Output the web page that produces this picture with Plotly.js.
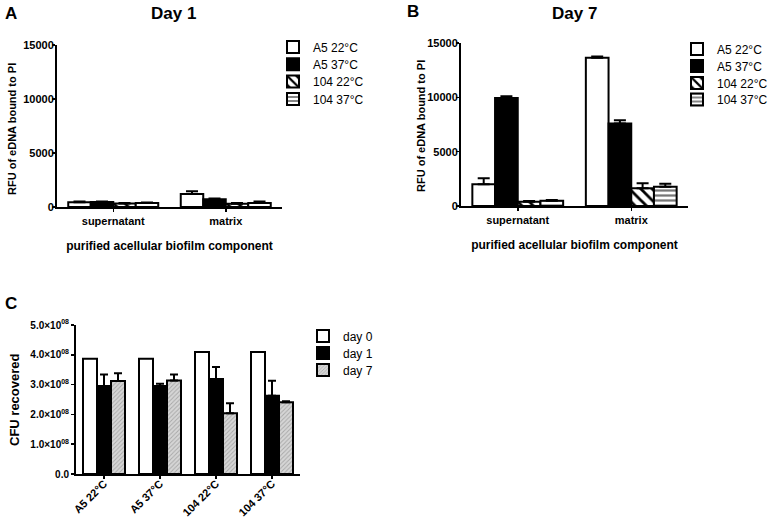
<!DOCTYPE html>
<html>
<head>
<meta charset="utf-8">
<script src="https://cdn.plot.ly/plotly-3.0.1.min.js"></script>
<style>html,body{margin:0;padding:0;background:#fff;}#chart{width:768px;height:523px;}</style>
</head>
<body>
<div id="chart"></div>
<script>
// ---- data ----
const componentCats = ["supernatant", "matrix"];
const strainNames = ["A5 22°C", "A5 37°C", "104 22°C", "104 37°C"];

// Panel A: Day 1 (RFU)
const day1_A5_22 = [450, 1200];
const day1_A5_37 = [470, 720];
const day1_104_22 = [320, 300];
const day1_104_37 = [380, 380];
const day1_A5_22_err = [50, 250];
const day1_A5_37_err = [40, 60];
const day1_104_22_err = [40, 80];
const day1_104_37_err = [40, 120];

// Panel B: Day 7 (RFU)
const day7_A5_22 = [2000, 13650];
const day7_A5_37 = [9950, 7600];
const day7_104_22 = [400, 1640];
const day7_104_37 = [490, 1760];
const day7_A5_22_err = [550, 100];
const day7_A5_37_err = [150, 280];
const day7_104_22_err = [60, 450];
const day7_104_37_err = [60, 280];

// Panel C: CFU recovered
const conditionCats = ["A5 22°C", "A5 37°C", "104 22°C", "104 37°C"];
const dayNames = ["day 0", "day 1", "day 7"];
const cfu_day0 = [3.87e8, 3.87e8, 4.09e8, 4.09e8];
const cfu_day1 = [2.95e8, 2.95e8, 3.19e8, 2.63e8];
const cfu_day7 = [3.12e8, 3.14e8, 2.04e8, 2.41e8];
const cfu_day1_err = [0.39e8, 0.08e8, 0.40e8, 0.50e8];
const cfu_day7_err = [0.26e8, 0.20e8, 0.33e8, 0.03e8];
const cfuTickVals = [0, 1e8, 2e8, 3e8, 4e8, 5e8];
const cfuTickText = ["0.0", "1.0×10<sup>08</sup>", "2.0×10<sup>08</sup>", "3.0×10<sup>08</sup>", "4.0×10<sup>08</sup>", "5.0×10<sup>08</sup>"];

// ---- styles ----
const FONT = "Liberation Sans, Arial, sans-serif";
const strainStyles = [
  {color: "#ffffff"},
  {color: "#000000"},
  {color: "#ffffff", pattern: {shape: "\\", fgcolor: "#000000", bgcolor: "#ffffff", size: 8, solidity: 0.35}},
  {color: "#ffffff", pattern: {shape: "-", fgcolor: "#777777", bgcolor: "#ffffff", size: 5, solidity: 0.45}}
];
const dayStyles = [
  {color: "#ffffff"},
  {color: "#000000"},
  {color: "#d0d0d0", pattern: {shape: "/", fgcolor: "#a8a8a8", bgcolor: "#d6d6d6", size: 3, solidity: 0.3}}
];

const W = 768, H = 523;
const px = v => v / W;
const py = v => (H - v) / H;

let legendCount = 0;
const legends = {};
function nextLegend(xPix, yPix) {
  legendCount++;
  const id = legendCount === 1 ? "legend" : "legend" + legendCount;
  legends[id] = {font: {family: FONT, size: 12, color: "#000"}, bgcolor: "rgba(0,0,0,0)",
    xanchor: "left", yanchor: "middle", x: px(xPix), y: py(yPix),
    itemclick: false, itemdoubleclick: false};
  return id;
}

function barTrace(x, y, err, name, style, idx, n, width, xa, ya, legend, capw) {
  const m = Object.assign({line: {color: "#000", width: 2}}, style);
  const t = {
    type: "bar", x: x, y: y, name: name, marker: m,
    width: width, offset: -width * n / 2 + idx * width,
    xaxis: xa, yaxis: ya, legend: legend, showlegend: true
  };
  if (err) {
    t.error_y = {type: "data", symmetric: false, array: err, arrayminus: err.map(() => 0),
      color: "#000", thickness: 2, width: capw};
  }
  return t;
}

const traces = [];
const d1 = [day1_A5_22, day1_A5_37, day1_104_22, day1_104_37];
const d1e = [day1_A5_22_err, day1_A5_37_err, day1_104_22_err, day1_104_37_err];
const d7 = [day7_A5_22, day7_A5_37, day7_104_22, day7_104_37];
const d7e = [day7_A5_22_err, day7_A5_37_err, day7_104_22_err, day7_104_37_err];
const legARows = [47, 64.3, 81.6, 99];
const legBRows = [49, 66, 83, 99.5];
const legCRows = [336, 353, 370];
for (let i = 0; i < 4; i++) {
  traces.push(barTrace(componentCats, d1[i], d1e[i], strainNames[i], strainStyles[i], i, 4, 0.2, "x", "y", nextLegend(273, legARows[i]), 6));
}
for (let i = 0; i < 4; i++) {
  traces.push(barTrace(componentCats, d7[i], d7e[i], strainNames[i], strainStyles[i], i, 4, 0.2, "x2", "y2", nextLegend(677, legBRows[i]), 6));
}
const cd = [cfu_day0, cfu_day1, cfu_day7];
const cde = [null, cfu_day1_err, cfu_day7_err];
for (let i = 0; i < 3; i++) {
  traces.push(barTrace(conditionCats, cd[i], cde[i], dayNames[i], dayStyles[i], i, 3, 0.25, "x3", "y3", nextLegend(303, legCRows[i]), 4));
}

const tickFont = {family: FONT, size: 11, color: "#000", weight: "bold"};
const axisBase = {showline: true, linecolor: "#000", linewidth: 2, ticks: "outside", ticklen: 3,
  tickwidth: 1.5, tickcolor: "#000", showgrid: false, zeroline: false, fixedrange: true, tickfont: tickFont};

const xCat = (dom, anchor, title) => Object.assign({}, axisBase, {
  domain: dom, anchor: anchor, type: "category", range: [-0.5, 1.5],
  title: {text: title, font: {family: FONT, size: 12, color: "#000", weight: "bold"}, standoff: 15}
});
const yRFU = (dom, anchor) => Object.assign({}, axisBase, {
  domain: dom, anchor: anchor, range: [0, 15000], tickvals: [0, 5000, 10000, 15000],
  ticktext: ["0", "5000", "10000", "15000"], ticklabelstandoff: -4
});

const layout = Object.assign({
  width: W, height: H, margin: {l: 0, r: 0, t: 0, b: 0, autoexpand: false},
  paper_bgcolor: "#fff", plot_bgcolor: "#fff",
  barmode: "overlay",
  font: {family: FONT, color: "#000"},
  xaxis: xCat([px(57), px(282)], "y", "purified acellular biofilm component"),
  yaxis: yRFU([py(207), py(45)], "x"),
  xaxis2: xCat([px(461), px(688)], "y2", "purified acellular biofilm component"),
  yaxis2: yRFU([py(206), py(43)], "x2"),
  xaxis3: Object.assign({}, axisBase, {domain: [px(76), px(300)], anchor: "y3", type: "category",
    range: [-0.5, 3.5], tickangle: -45, ticklabelstandoff: -6}),
  yaxis3: Object.assign({}, axisBase, {domain: [py(474), py(325)], anchor: "x3", range: [0, 5e8],
    tickvals: cfuTickVals, ticktext: cfuTickText, tickfont: {family: FONT, size: 10, color: "#000", weight: "bold"}}),
  annotations: [
    {text: "<b>A</b>", x: px(3), y: py(13), xref: "paper", yref: "paper", xanchor: "left", yanchor: "middle", showarrow: false, font: {family: FONT, size: 17, color: "#000"}},
    {text: "<b>B</b>", x: px(405), y: py(11), xref: "paper", yref: "paper", xanchor: "left", yanchor: "middle", showarrow: false, font: {family: FONT, size: 17, color: "#000"}},
    {text: "<b>C</b>", x: px(3), y: py(304), xref: "paper", yref: "paper", xanchor: "left", yanchor: "middle", showarrow: false, font: {family: FONT, size: 17, color: "#000"}},
    {text: "<b>Day 1</b>", x: px(173), y: py(14), xref: "paper", yref: "paper", xanchor: "center", yanchor: "middle", showarrow: false, font: {family: FONT, size: 17, color: "#000"}},
    {text: "<b>Day 7</b>", x: px(574), y: py(14), xref: "paper", yref: "paper", xanchor: "center", yanchor: "middle", showarrow: false, font: {family: FONT, size: 17, color: "#000"}},
    {text: "<b>RFU of eDNA bound to PI</b>", textangle: -90, x: px(12), y: py(129), xref: "paper", yref: "paper", xanchor: "center", yanchor: "middle", showarrow: false, font: {family: FONT, size: 11, color: "#000"}},
    {text: "<b>RFU of eDNA bound to PI</b>", textangle: -90, x: px(421), y: py(126), xref: "paper", yref: "paper", xanchor: "center", yanchor: "middle", showarrow: false, font: {family: FONT, size: 11, color: "#000"}},
    {text: "<b>CFU recovered</b>", textangle: -90, x: px(14), y: py(400), xref: "paper", yref: "paper", xanchor: "center", yanchor: "middle", showarrow: false, font: {family: FONT, size: 13, color: "#000"}}
  ]
}, legends);

Plotly.newPlot("chart", traces, layout, {displayModeBar: false, staticPlot: true});
</script>
</body>
</html>
